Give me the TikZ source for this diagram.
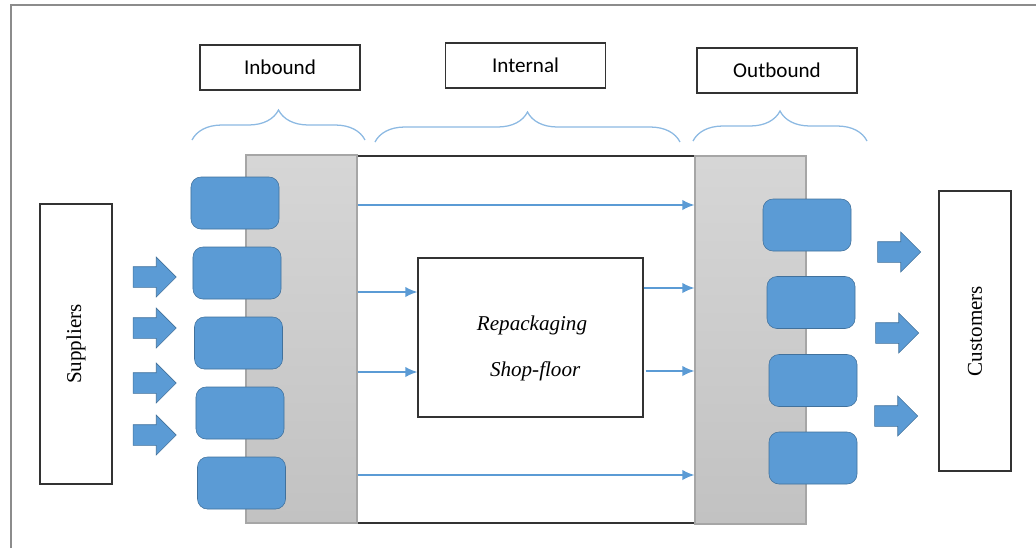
\documentclass[tikz,border=0pt]{standalone}
\usepackage{fontspec}
\setmainfont{Liberation Serif}
\newfontfamily\labelfont{Carlito}
\usetikzlibrary{positioning,arrows.meta,calc,shapes.arrows,decorations.pathreplacing}
\definecolor{boxblue}{HTML}{5B9BD5}
\definecolor{boxedge}{HTML}{41719C}

\begin{document}
\begin{tikzpicture}[
  x=0.025cm, y=-0.025cm,
  stage/.style={draw=black!80,line width=0.8pt,minimum width=4cm,minimum height=1.125cm,font=\labelfont\fontsize{15}{18}\selectfont},
  party/.style={draw=black!80,line width=0.8pt,minimum width=7cm,minimum height=1.8cm,font=\fontsize{15}{18}\selectfont,rotate=90},
  dock/.style={draw=boxedge,fill=boxblue,rounded corners=0.25cm,minimum width=2.2cm,minimum height=1.3cm},
  panel/.style={draw=black!35,line width=0.8pt,top color=black!16,bottom color=black!24,minimum width=2.775cm,minimum height=9.2cm},
  push/.style={single arrow,draw=boxedge,fill=boxblue,inner xsep=0pt,inner ysep=0.25cm,single arrow head extend=0.24cm,minimum height=1.075cm},
  flow/.style={draw=boxblue,line width=1.2pt,-{Latex[length=3mm,width=2.6mm]}},
  span/.style={draw=boxblue!70,line width=0.9pt,decorate,decoration={brace,amplitude=0.75cm}}
]
\useasboundingbox (0,0) rectangle (1036,548);
\draw[black!45,line width=1.5pt] (11,548) -- (11,5) -- (1036,5);

% stage labels and braces
\node[stage] (inbound) at (280,67.5) {Inbound};
\node[stage] (internal) at (525.5,65.5) {Internal};
\node[stage] (outbound) at (777,70.5) {Outbound};
\draw[span] (192,140) -- (365,140);
\draw[span] (375,142) -- (680,142);
\draw[span] (693,141) -- (867,141);

% warehouse
\node[draw=black!80,line width=0.8pt,minimum width=8.45cm,minimum height=9.175cm] (core) at (526,339.5) {};
\node[panel] (inpanel) at (301.5,339) {};
\node[panel] (outpanel) at (750.5,340) {};
\node[draw=black!80,line width=0.8pt,minimum width=5.625cm,minimum height=3.975cm] (repack) at (530.5,337.5) {};
\node[align=center,font=\itshape\fontsize{15}{32.7}\selectfont] (repacktext) at (532,348) {Repackaging\\ \hspace{0.3em}Shop-floor};

\foreach \i/\x/\y in {1/235/203,2/237/273,3/238.5/343,4/240/413,5/241.5/483}
  \node[dock] (in\i) at (\x,\y) {};
\foreach \i/\x/\y in {1/807/225,2/811/302.5,3/813/380.5,4/813/458}
  \node[dock] (out\i) at (\x,\y) {};

% suppliers and customers
\node[party] (suppliers) at (76,344) {Suppliers};
\node[party] (customers) at (975,331) {Customers};
\foreach \i/\y in {1/277,2/328,3/383,4/435}
  \node[push] (sa\i) at (149.5,\y) {};
\foreach \i/\x/\y in {1/894/252,2/892/333,3/891/416}
  \node[push] (ca\i) at (\x,\y) {};

% internal flows
\draw[flow] (inpanel.east |- 0,205) -- (outpanel.west |- 0,205);
\draw[flow] (inpanel.east |- 0,292) -- (repack.west |- 0,292);
\draw[flow] (inpanel.east |- 0,372) -- (repack.west |- 0,372);
\draw[flow] (repack.east |- 0,288) -- (outpanel.west |- 0,288);
\draw[flow] ([xshift=0.05cm]repack.east |- 0,371) -- (outpanel.west |- 0,371);
\draw[flow] (inpanel.east |- 0,475) -- (outpanel.west |- 0,475);
\end{tikzpicture}
\end{document}
